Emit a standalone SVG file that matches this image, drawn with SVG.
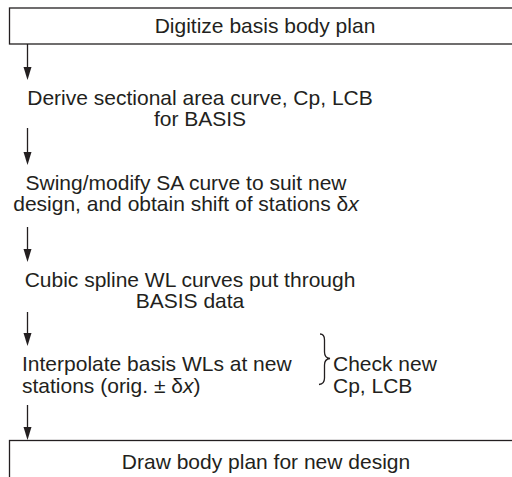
<svg xmlns="http://www.w3.org/2000/svg" width="512" height="477" viewBox="0 0 512 477">
<style>
.t{font-family:"Liberation Sans",Arial,sans-serif;font-size:21px;fill:#231f20}
.m{text-anchor:middle}
.box{fill:#fff;stroke:#231f20;stroke-width:1.3}
.ln{stroke:#231f20;stroke-width:1.3;fill:none}
.ah{fill:#231f20}
</style>
<rect width="512" height="477" fill="#fff"/>
<g id="connectors">
<line class="ln" x1="27.5" y1="44" x2="27.5" y2="67"/><path class="ah" d="M23.5,67 L31.5,67 L27.5,80 Z"/>
<line class="ln" x1="27.5" y1="128" x2="27.5" y2="152"/><path class="ah" d="M23.5,152 L31.5,152 L27.5,165 Z"/>
<line class="ln" x1="27.5" y1="227" x2="27.5" y2="249"/><path class="ah" d="M23.5,249 L31.5,249 L27.5,262 Z"/>
<line class="ln" x1="27.5" y1="312" x2="27.5" y2="333"/><path class="ah" d="M23.5,333 L31.5,333 L27.5,346 Z"/>
<line class="ln" x1="27.5" y1="405" x2="27.5" y2="427"/><path class="ah" d="M23.5,427 L31.5,427 L27.5,440 Z"/>
</g>
<g id="n1">
<rect class="box" x="9.5" y="8" width="520" height="36"/>
<text class="t m" x="265" y="33">Digitize basis body plan</text>
</g>
<g id="n2">
<text class="t m" x="200" y="105">Derive sectional area curve, Cp, LCB</text>
<text class="t m" x="200" y="126">for BASIS</text>
</g>
<g id="n3">
<text class="t m" x="186" y="190">Swing/modify SA curve to suit new</text>
<text class="t m" x="186" y="211">design, and obtain shift of stations δ<tspan font-style="italic">x</tspan></text>
</g>
<g id="n4">
<text class="t m" x="190" y="287">Cubic spline WL curves put through</text>
<text class="t m" x="190" y="308">BASIS data</text>
</g>
<g id="n5">
<text class="t" x="22" y="371">Interpolate basis WLs at new</text>
<text class="t" x="22" y="393">stations (orig. ± δ<tspan font-style="italic">x</tspan>)</text>
</g>
<g id="n6">
<path class="ln" d="M320,334 Q324.5,334 324.5,340 L324.5,352 Q324.5,358 330,358.5 Q324.5,359 324.5,365 L324.5,378 Q324.5,384 319,384.5" stroke-width="1"/>
<text class="t" x="333" y="371">Check new</text>
<text class="t" x="333" y="393">Cp, LCB</text>
</g>
<g id="n7">
<rect class="box" x="9.5" y="440.5" width="520" height="50"/>
<text class="t m" x="266" y="469">Draw body plan for new design</text>
</g>
</svg>
